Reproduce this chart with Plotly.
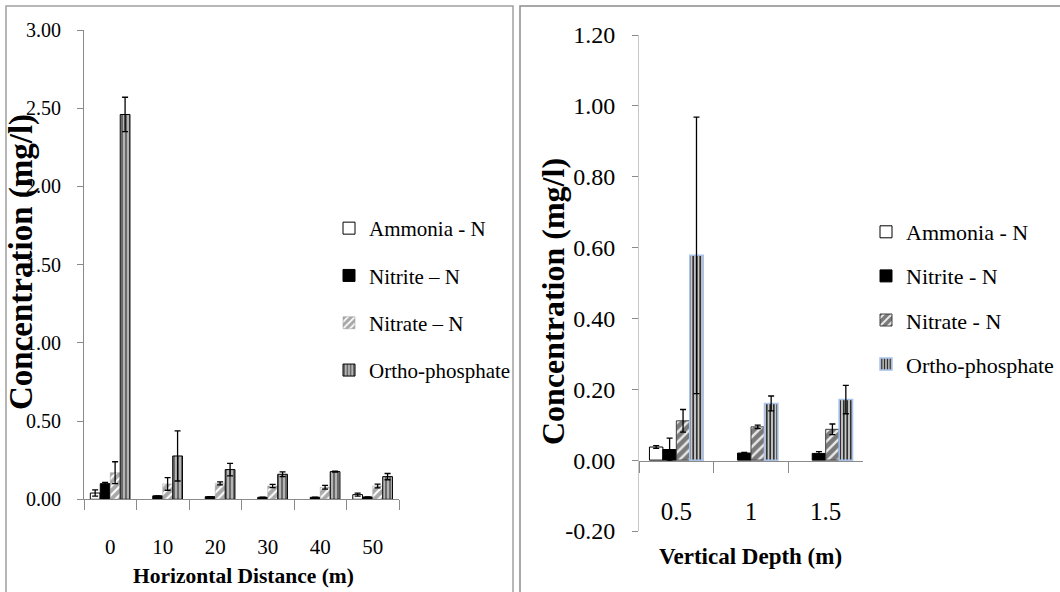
import plotly.graph_objects as go

# ---------------- data ----------------
series_names = ["Ammonia - N", "Nitrite \u2013 N", "Nitrate \u2013 N", "Ortho-phosphate"]
series_names_v = ["Ammonia - N", "Nitrite - N", "Nitrate - N", "Ortho-phosphate"]

cats_h = ["0", "10", "20", "30", "40", "50"]
ammonia_h = [0.040, None, None, None, None, 0.030]
ammonia_h_err = [0.020, None, None, None, None, 0.010]
nitrite_h = [0.100, 0.022, 0.017, 0.013, 0.013, 0.015]
nitrite_h_err = [0.008, None, None, None, None, None]
nitrate_h = [0.170, 0.098, 0.102, 0.085, 0.077, 0.085]
nitrate_h_err = [0.070, 0.040, 0.010, 0.010, 0.012, 0.012]
ortho_h = [2.46, 0.277, 0.190, 0.160, 0.177, 0.145]
ortho_h_err = [0.110, 0.160, 0.040, 0.015, 0.003, 0.020]

cats_v = ["0.5", "1", "1.5"]
ammonia_v = [0.037, None, None]
ammonia_v_err = [0.004, None, None]
nitrite_v = [0.030, 0.020, 0.019]
nitrite_v_err = [0.032, 0.002, 0.005]
nitrate_v = [0.111, 0.094, 0.087]
nitrate_v_err = [0.032, 0.005, 0.015]
ortho_v = [0.578, 0.160, 0.171]
ortho_v_err = [0.390, 0.021, 0.040]

y_ticks_h = [0, 0.5, 1.0, 1.5, 2.0, 2.5, 3.0]
y_ticks_v = [-0.2, 0, 0.2, 0.4, 0.6, 0.8, 1.0, 1.2]
y_ticktext_v = ["-0.20", "0.00", "0.20", "0.40", "0.60", "0.80", "1.00", "1.20"]

# ---------------- layout helpers ----------------
W, H = 1060, 592
def px_x(p):
    return p / W
def px_y(p):
    return 1 - p / H

FONT = "Liberation Serif"

fig = go.Figure()

def err(arr, color="black"):
    return dict(type="data", array=arr, visible=True, color=color, thickness=1.3, width=3)

styles_h = [
    dict(color="white", line=dict(color="black", width=1)),
    dict(color="black", line=dict(color="black", width=1)),
    dict(color="#b8b8b8", line=dict(color="#9a9a9a", width=0.5),
         pattern=dict(shape="/", fgcolor="white", bgcolor="#a8a8a8", size=6, solidity=0.35)),
    dict(color="#a8a8a8", line=dict(color="black", width=1),
         pattern=dict(shape="|", fgcolor="#4a4a4a", bgcolor="#b4b4b4", size=4, solidity=0.35)),
]
styles_v = [
    dict(color="white", line=dict(color="black", width=1)),
    dict(color="black", line=dict(color="black", width=1)),
    dict(color="#8c8c8c", line=dict(color="#404040", width=1),
         pattern=dict(shape="/", fgcolor="#e8e8e8", bgcolor="#7a7a7a", size=7, solidity=0.35)),
    dict(color="#9a9a9a", line=dict(color="#a9c4eb", width=1.5),
         pattern=dict(shape="|", fgcolor="#202020", bgcolor="#c8c8c8", size=3.5, solidity=0.45)),
]

vals_h = [(ammonia_h, ammonia_h_err), (nitrite_h, nitrite_h_err),
          (nitrate_h, nitrate_h_err), (ortho_h, ortho_h_err)]
vals_v = [(ammonia_v, ammonia_v_err), (nitrite_v, nitrite_v_err),
          (nitrate_v, nitrate_v_err), (ortho_v, ortho_v_err)]

offs_h = [-0.38, -0.19, 0.0, 0.19]
offs_v = [-0.36, -0.18, 0.0, 0.18]

for i, (vals, e) in enumerate(vals_h):
    fig.add_trace(go.Bar(
        x=cats_h, y=vals, name=series_names[i], marker=styles_h[i],
        error_y=err(e), width=0.185, offset=offs_h[i],
        xaxis="x", yaxis="y", legend="legend", legendgroup="h%d" % i,
    ))
for i, (vals, e) in enumerate(vals_v):
    fig.add_trace(go.Bar(
        x=cats_v, y=vals, name=series_names_v[i], marker=styles_v[i],
        error_y=err(e), width=0.18, offset=offs_v[i],
        xaxis="x2", yaxis="y2", legend="legend2", legendgroup="v%d" % i,
    ))

axcol = "#8a8a8a"
fig.update_layout(
    template="none",
    width=W, height=H,
    margin=dict(l=0, r=0, t=0, b=0, pad=0, autoexpand=False),
    paper_bgcolor="white", plot_bgcolor="white",
    barmode="overlay",
    font=dict(family=FONT, color="black"),
    xaxis=dict(
        domain=[px_x(84), px_x(399)], type="category", anchor="y", automargin=False,
        showline=True, linecolor=axcol, linewidth=1, showgrid=False, zeroline=False,
        ticks="outside", ticklen=10, tickcolor=axcol, tickson="boundaries",
        tickfont=dict(size=21, family=FONT), ticklabelstandoff=28,
    ),
    yaxis=dict(
        domain=[px_y(499.3), px_y(30)], range=[0, 3], anchor="x", automargin=False,
        tickvals=y_ticks_h, tickformat=".2f",
        showline=True, linecolor=axcol, linewidth=1, showgrid=False, zeroline=False,
        ticks="outside", ticklen=6, tickcolor=axcol,
        tickfont=dict(size=20, family=FONT), ticklabelstandoff=12,
    ),
    xaxis2=dict(
        domain=[px_x(639), px_x(863)], type="category", anchor="free", position=px_y(460.7),
        automargin=False,
        showline=True, linecolor=axcol, linewidth=1, showgrid=False, zeroline=False,
        ticks="outside", ticklen=11, tickcolor=axcol, tickson="boundaries",
        tickfont=dict(size=25, family=FONT), ticklabelstandoff=28,
    ),
    yaxis2=dict(
        domain=[px_y(531), px_y(35)], range=[-0.2, 1.2], anchor="x2", automargin=False,
        tickvals=y_ticks_v, ticktext=y_ticktext_v,
        showline=True, linecolor="#c8c8c8", linewidth=1, showgrid=False, zeroline=False,
        ticks="outside", ticklen=6, tickcolor=axcol,
        tickfont=dict(size=24, family=FONT), ticklabelstandoff=12,
    ),
    legend=dict(
        x=px_x(329), y=px_y(208), xanchor="left", yanchor="top",
        font=dict(size=21, family=FONT), bgcolor="rgba(0,0,0,0)", borderwidth=0,
        tracegroupgap=17, itemwidth=30, traceorder="grouped",
    ),
    legend2=dict(
        x=px_x(866), y=px_y(211), xanchor="left", yanchor="top",
        font=dict(size=22, family=FONT), bgcolor="rgba(0,0,0,0)", borderwidth=0,
        tracegroupgap=12.5, itemwidth=30, traceorder="grouped",
    ),
    showlegend=True,
)

# axis titles
fig.add_annotation(text="<b>Concentration (mg/l)</b>", textangle=-90,
                   x=px_x(21), y=px_y(262), xref="paper", yref="paper",
                   xanchor="center", yanchor="middle",
                   showarrow=False, font=dict(size=33, family=FONT))
fig.add_annotation(text="<b>Horizontal Distance (m)</b>",
                   x=px_x(243), y=px_y(576), xref="paper", yref="paper",
                   xanchor="center", yanchor="middle",
                   showarrow=False, font=dict(size=21.5, family=FONT))
fig.add_annotation(text="<b>Concentration (mg/l)</b>", textangle=-90,
                   x=px_x(553), y=px_y(302), xref="paper", yref="paper",
                   xanchor="center", yanchor="middle",
                   showarrow=False, font=dict(size=32, family=FONT))
fig.add_annotation(text="<b>Vertical Depth (m)</b>",
                   x=px_x(750), y=px_y(556), xref="paper", yref="paper",
                   xanchor="center", yanchor="middle",
                   showarrow=False, font=dict(size=23, family=FONT))

# panel borders
fig.add_shape(type="rect", xref="paper", yref="paper",
              x0=px_x(6), x1=px_x(513), y0=px_y(600), y1=px_y(6),
              line=dict(color="#a0a0a0", width=1.5), layer="below")
fig.add_shape(type="rect", xref="paper", yref="paper",
              x0=px_x(520), x1=px_x(1070), y0=px_y(600), y1=px_y(6),
              line=dict(color="#8c8c8c", width=1.5), layer="below")

fig.write_html("out.html", config={"displayModeBar": False},
               post_script="document.body.style.margin='0px';")
